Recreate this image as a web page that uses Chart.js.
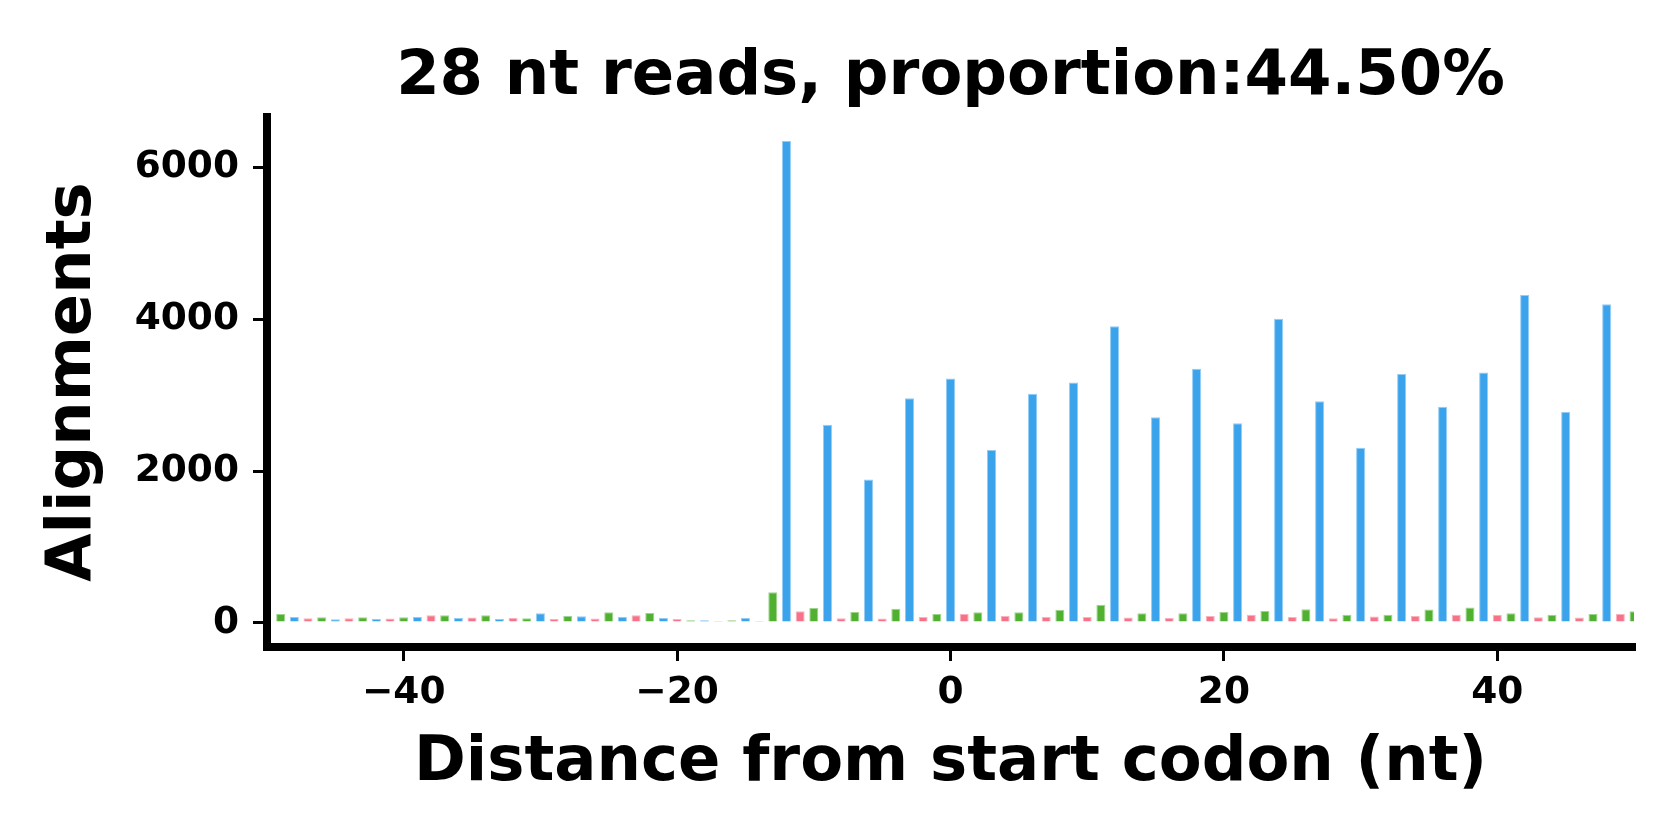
<!DOCTYPE html>
<html>
<head>
<meta charset="utf-8">
<script src="https://cdn.jsdelivr.net/npm/chart.js@4/dist/chart.umd.min.js"></script>
<style>
  html, body { margin: 0; padding: 0; background: #ffffff; }
  canvas { display: block; }
</style>
</head>
<body>
<canvas id="frameChart" width="1680" height="840"></canvas>
<script>
const titleText = '28 nt reads, proportion:44.50%';
const xLabel = 'Distance from start codon (nt)';
const yLabel = 'Alignments';
const xTicks = [-40, -20, 0, 20, 40];
const yTicks = [0, 2000, 4000, 6000];

// frame 0 (blue)
const frame0Pos = [-48, -45, -42, -39, -36, -33, -30, -27, -24, -21, -18, -15, -12, -9, -6, -3,
  0, 3, 6, 9, 12, 15, 18, 21, 24, 27, 30, 33, 36, 39, 42, 45, 48];
const frame0Val = [79, 48, 53, 79, 66, 53, 128, 88, 79, 66, 35, 66, 6350, 2610, 1890, 2960,
  3220, 2280, 3020, 3170, 3910, 2710, 3350, 2630, 4010, 2920, 2310, 3280, 2850, 3300, 4320, 2780, 4200];

// frame 1 (pink)
const frame1Pos = [-47, -44, -41, -38, -35, -32, -29, -26, -23, -20, -17, -14, -11, -8, -5, -2,
  1, 4, 7, 10, 13, 16, 19, 22, 25, 28, 31, 34, 37, 40, 43, 46, 49];
const frame1Val = [62, 62, 57, 101, 70, 66, 53, 57, 101, 53, 26, 26, 154, 62, 57, 79,
  119, 92, 79, 79, 70, 66, 92, 106, 79, 62, 84, 92, 106, 106, 75, 70, 119];

// frame 2 (green)
const frame2Pos = [-49, -46, -43, -40, -37, -34, -31, -28, -25, -22, -19, -16, -13, -10, -7, -4,
  -1, 2, 5, 8, 11, 14, 17, 20, 23, 26, 29, 32, 35, 38, 41, 44, 47, 50];
const frame2Val = [119, 75, 75, 75, 101, 101, 62, 92, 141, 132, 35, 35, 405, 198, 145, 185,
  119, 141, 141, 172, 238, 128, 128, 145, 158, 180, 106, 106, 176, 202, 128, 106, 119, 154];

const frameColors = ['#3ba3ec', '#f77189', '#50b131'];
const frameEdges = ['rgba(59,163,236,0.55)', 'rgba(247,113,137,0.55)', 'rgba(80,177,49,0.55)'];

function toPoints(pos, val) {
  return pos.map((x, i) => ({ x: x, y: val[i] }));
}

const fontFamily = '"DejaVu Sans", sans-serif';
const yMax = Math.max(...frame0Val, ...frame1Val, ...frame2Val);

// title centred over the plot area, like matplotlib
const plotTitle = {
  id: 'plotTitle',
  afterDraw(chart) {
    const { ctx, chartArea } = chart;
    ctx.save();
    ctx.font = 'bold 62.5px ' + fontFamily;
    ctx.fillStyle = '#000000';
    ctx.textAlign = 'center';
    ctx.textBaseline = 'alphabetic';
    ctx.fillText(titleText, (chartArea.left + chartArea.right) / 2, 94);
    ctx.restore();
  }
};

const datasets = [
  { data: toPoints(frame2Pos, frame2Val), backgroundColor: frameColors[2], borderColor: frameEdges[2] },
  { data: toPoints(frame1Pos, frame1Val), backgroundColor: frameColors[1], borderColor: frameEdges[1] },
  { data: toPoints(frame0Pos, frame0Val), backgroundColor: frameColors[0], borderColor: frameEdges[0] }
].map(d => Object.assign(d, {
  borderWidth: 1,
  borderSkipped: 'bottom',
  grouped: false,
  categoryPercentage: 1.0,
  barPercentage: 0.66,
  clip: 0
}));

new Chart(document.getElementById('frameChart'), {
  type: 'bar',
  data: { datasets },
  plugins: [plotTitle],
  options: {
    responsive: false,
    animation: false,
    devicePixelRatio: 1,
    layout: { padding: { top: 117, right: 46, left: 0, bottom: 0 } },
    plugins: {
      legend: { display: false },
      title: { display: false },
      tooltip: { enabled: false }
    },
    scales: {
      x: {
        type: 'linear',
        min: -50,
        max: 50,
        offset: false,
        afterBuildTicks: scale => { scale.ticks = xTicks.map(v => ({ value: v })); },
        afterFit: scale => { scale.height = 193; },
        grid: {
          offset: false,
          drawOnChartArea: false,
          drawTicks: true,
          tickLength: 14,
          lineWidth: 3,
          tickColor: '#000000'
        },
        border: { display: true, color: '#000000', width: 8 },
        ticks: {
          autoSkip: false,
          maxRotation: 0,
          padding: 10,
          color: '#000000',
          font: { family: fontFamily, size: 37.5, weight: 'bold' },
          callback: v => (v < 0 ? '\u2212' + Math.abs(v) : String(v))
        },
        title: {
          display: true,
          text: xLabel,
          color: '#000000',
          font: { family: fontFamily, size: 62.5, weight: 'bold', lineHeight: 1.2 },
          padding: { top: 0, bottom: 39 }
        }
      },
      y: {
        type: 'linear',
        min: -0.05 * yMax,
        max: 1.05 * yMax,
        afterBuildTicks: scale => { scale.ticks = yTicks.map(v => ({ value: v })); },
        afterFit: scale => { scale.width = 267; },
        grid: {
          drawOnChartArea: false,
          drawTicks: true,
          tickLength: 14,
          lineWidth: 3,
          tickColor: '#000000'
        },
        border: { display: true, color: '#000000', width: 8 },
        ticks: {
          padding: 14,
          color: '#000000',
          font: { family: fontFamily, size: 37.5, weight: 'bold' },
          callback: v => String(v)
        },
        title: {
          display: true,
          text: yLabel,
          color: '#000000',
          font: { family: fontFamily, size: 62.5, weight: 'bold', lineHeight: 1.2 },
          padding: { top: 36, bottom: 0 }
        }
      }
    }
  }
});
</script>
</body>
</html>
